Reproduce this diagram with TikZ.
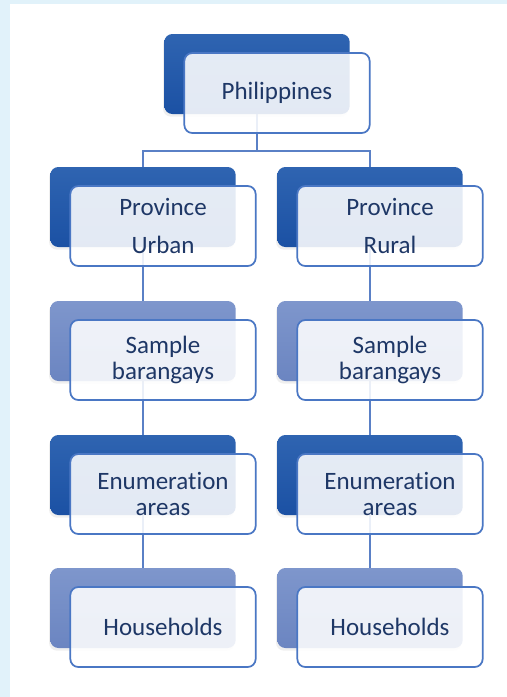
\documentclass[tikz,border=0pt]{standalone}
\usepackage{fontspec}
\setmainfont{Carlito}[Ligatures={NoCommon}]
\usetikzlibrary{backgrounds,shadows}

\definecolor{framebg}{HTML}{E1F2FA}
\definecolor{darktop}{HTML}{2F64B1}
\definecolor{darkbot}{HTML}{1B51A4}
\definecolor{lighttop}{HTML}{7E96CC}
\definecolor{lightbot}{HTML}{6B85C1}
\definecolor{boxline}{HTML}{4A77C4}
\definecolor{linkblue}{HTML}{5A80C6}
\definecolor{navy}{HTML}{1E3766}

\tikzset{
  backbox/.style={rectangle, rounded corners=6pt, minimum width=139pt, minimum height=60pt,
    drop shadow={opacity=0.12, shadow xshift=-1pt, shadow yshift=-2pt}},
  darkbox/.style={backbox, top color=darktop, bottom color=darkbot},
  lightbox/.style={backbox, top color=lighttop, bottom color=lightbot},
  frontbox/.style={rectangle, rounded corners=6pt, minimum width=139pt, minimum height=60pt,
    draw=boxline, line width=1.3pt, fill=white, fill opacity=0.88, text opacity=1,
    text=navy, font=\fontsize{18.75}{20}\selectfont, align=center},
  link/.style={draw=linkblue, line width=1.2pt}
}

\begin{document}
\begin{tikzpicture}[x=0.75pt,y=-0.75pt]
  \useasboundingbox (0,0) rectangle (507,697);

  % top of the tree
  \node[darkbox] (phB) at (257,74) {};
  \node[frontbox] (ph) at (277,93) {Philippines};
  \coordinate (bus) at (257,151);

  % one column per domain
  \foreach \cx/\side/\kind in {143/u/Urban, 370/r/Rural} {
    \node[darkbox] (provB-\side) at (\cx,207) {};
    \node[frontbox] (prov-\side) at (\cx+20,226) {Province\\[8.5pt]\kind};

    \node[lightbox] (sampB-\side) at (\cx,341) {};
    \node[frontbox] (samp-\side) at (\cx+20,360) {Sample\\barangays};

    \node[darkbox] (enumB-\side) at (\cx,475) {};
    \node[frontbox] (enum-\side) at (\cx+20,494) {Enumeration\\areas};

    \node[lightbox] (hhB-\side) at (\cx,608) {};
    \node[frontbox] (hh-\side) at (\cx+20,627) {Households};
  }

  \begin{scope}[on background layer]
    \fill[framebg] (0,0) rectangle (507,697);
    \fill[white] (10,4) rectangle (507,697);

    \draw[link] (phB) -- (bus) -| (provB-u);
    \draw[link] (bus) -| (provB-r);
    \foreach \side in {u,r} {
      \draw[link] (provB-\side) -- (sampB-\side);
      \draw[link] (sampB-\side) -- (enumB-\side);
      \draw[link] (enumB-\side) -- (hhB-\side);
    }
  \end{scope}
\end{tikzpicture}
\end{document}
